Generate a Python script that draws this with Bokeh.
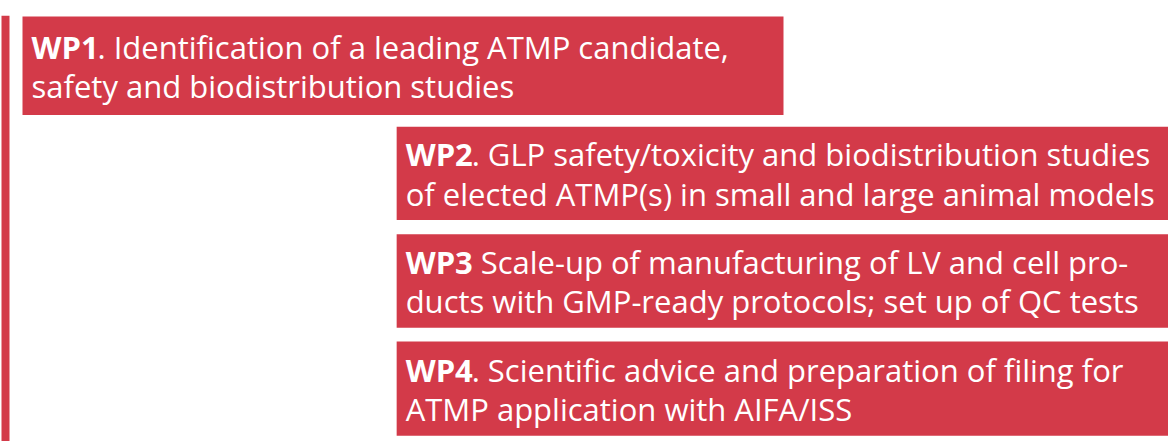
from bokeh.plotting import figure
from bokeh.models import Range1d, Span, ColumnDataSource
from bokeh.core.properties import value
from bokeh.embed import file_html
from bokeh.resources import INLINE

# ---- data ----
tasks = ["WP1", "WP2", "WP3", "WP4"]
start_month = [0, 11.8, 11.8, 11.8]
end_month = [24, 37, 37, 37]
line1 = [
    ". Identification of a leading ATMP candidate,",
    ". GLP safety/toxicity and biodistribution studies",
    "Scale-up of manufacturing of LV and cell pro-",
    ". Scientific advice and preparation of filing for",
]
line2 = [
    "safety and biodistribution studies",
    "of elected ATMP(s) in small and large animal models",
    "ducts with GMP-ready protocols; set up of QC tests",
    "ATMP application with AIFA/ISS",
]

# ---- styling ----
RED = "#d33a49"
FONT = value("Open Sans")
bar_height = [0.915, 0.865, 0.87, 0.875]
rest_offset = [75, 75, 84, 75]

src = ColumnDataSource(dict(
    row=list(range(len(tasks))),
    task=tasks,
    start=start_month,
    end=end_month,
    l1=line1,
    l2=line2,
    h=bar_height,
    roff=rest_offset,
))

p = figure(
    width=1168, height=441,
    x_range=Range1d(-0.6938, 36.142),
    y_range=Range1d(3.4917, -0.4675),
    output_backend="svg", toolbar_location=None,
    x_axis_location=None, y_axis_location=None,
    min_border_left=0, min_border_right=0,
    min_border_top=15, min_border_bottom=0,
    outline_line_color=None,
    background_fill_color="white", border_fill_color="white",
)
p.xgrid.visible = False
p.ygrid.visible = False

p.hbar(y="row", left="start", right="end", height="h", source=src,
       fill_color=RED, line_color=None)

p.add_layout(Span(location=-0.5361, dimension="height",
                  line_color=RED, line_width=8))

common = dict(source=src, text_font=FONT, text_font_size="31px",
              text_color="white", text_baseline="alphabetic", text_align="left")
p.text(x="start", y="row", text="task", text_font_style="bold",
       x_offset=9, y_offset=-19, **common)
p.text(x="start", y="row", text="l1", x_offset="roff", y_offset=-19, **common)
p.text(x="start", y="row", text="l2", x_offset=9, y_offset=20.5, **common)

open("out.html", "w").write(file_html(p, INLINE))
